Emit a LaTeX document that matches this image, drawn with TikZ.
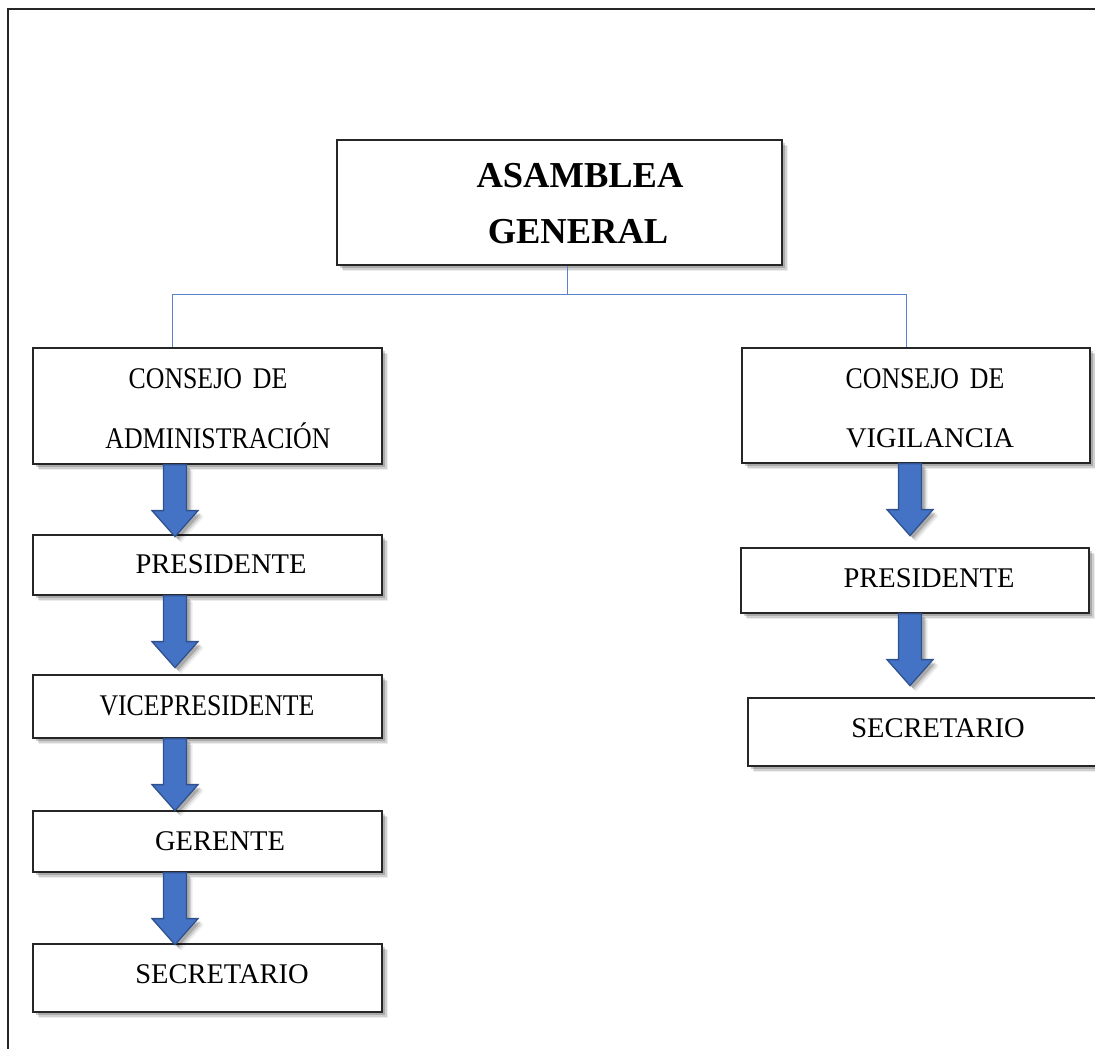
\documentclass[tikz,border=0pt]{standalone}
\usepackage{fontspec}
\setmainfont{Liberation Serif}
\newfontfamily\condfont[FakeStretch=0.86]{Liberation Serif}
\usetikzlibrary{shadows,calc}
\definecolor{arrowblue}{HTML}{4472C4}
\definecolor{arrowedge}{HTML}{2F528F}
\definecolor{connblue}{HTML}{5B83CC}
\tikzset{
  softshadow/.style={
    drop shadow={shadow xshift=6pt, shadow yshift=-6pt, fill=black, opacity=0.07},
    drop shadow={shadow xshift=4.5pt, shadow yshift=-4.5pt, fill=black, opacity=0.12},
    drop shadow={shadow xshift=3pt, shadow yshift=-3pt, fill=black, opacity=0.18}},
  box/.style={draw=black!85, line width=1.2pt, fill=white, inner sep=0pt, softshadow},
  lbl/.style={inner sep=0pt, anchor=base, font=\fontsize{28.5}{30}\selectfont},
  clbl/.style={inner sep=0pt, anchor=base, font=\condfont\fontsize{30}{32}\selectfont},
  blbl/.style={inner sep=0pt, anchor=base, font=\fontsize{36.5}{38}\selectfont\bfseries},
  barrow/.style={fill=arrowblue, draw=arrowedge, line width=1.3pt, line join=miter, softshadow},
  conn/.style={draw=connblue, line width=1pt},
  frameline/.style={draw=black!85, line width=1.2pt}
}
% #1 source node, #2 x centre of the arrow
\newcommand\blkarrow[2]{%
  \path let \p1=(#1.south) in
    [barrow] (#2pt-11.5pt,\y1) -- (#2pt+11.5pt,\y1) -- (#2pt+11.5pt,\y1-46pt)
    -- (#2pt+23pt,\y1-46pt) -- (#2pt,\y1-72pt) -- (#2pt-23pt,\y1-46pt)
    -- (#2pt-11.5pt,\y1-46pt) -- cycle;}
\begin{document}
\begin{tikzpicture}[x=1pt,y=-1pt]
\useasboundingbox (0,0) rectangle (1095,1049);
\draw[frameline] (8,1049) -- (8,9) -- (1095,9);

% boxes
\node[box, minimum width=445pt, minimum height=125pt] (asam) at (559.5,202.5) {};
\node[box, minimum width=349pt, minimum height=116pt] (ca) at (207.5,406) {};
\node[box, minimum width=348pt, minimum height=115pt] (cv) at (916,405.5) {};
\node[box, minimum width=349pt, minimum height=60pt] (lp) at (207.5,565) {};
\node[box, minimum width=349pt, minimum height=63pt] (lv) at (207.5,706.5) {};
\node[box, minimum width=349pt, minimum height=61pt] (lg) at (207.5,841.5) {};
\node[box, minimum width=349pt, minimum height=68pt] (ls) at (207.5,978) {};
\node[box, minimum width=348pt, minimum height=65pt] (rp) at (915,580.5) {};
\node[box, minimum width=348pt, minimum height=68pt] (rs) at (922,732) {};

% connectors
\coordinate (asamc) at ($(asam.south)+(7.5,0)$);
\coordinate (bar) at (0,294);
\coordinate (catop) at ($(ca.north west)+(140,0)$);
\coordinate (cvtop) at ($(cv.north west)+(165,0)$);
\draw[conn] (asamc) -- (asamc|-bar) -| (catop);
\draw[conn] (asamc|-bar) -| (cvtop);

% labels
\node[blbl] (tasam1) at (580,187) {ASAMBLEA};
\node[blbl] (tasam2) at (578,243) {GENERAL};
\node[clbl] (tca1) at (208,388) {CONSEJO\hspace{11pt}DE};
\node[clbl] (tca2) at (218,448) {ADMINISTRACIÓN};
\node[clbl] (tcv1) at (925,388) {CONSEJO\hspace{11pt}DE};
\node[lbl] (tcv2) at (930,447) {VIGILANCIA};
\node[lbl] (tlp) at (221,573) {PRESIDENTE};
\node[clbl] (tlv) at (207,715) {VICEPRESIDENTE};
\node[lbl] (tlg) at (220,850) {GERENTE};
\node[lbl] (tls) at (222,983) {SECRETARIO};
\node[lbl] (trp) at (929,587) {PRESIDENTE};
\node[lbl] (trs) at (938,737) {SECRETARIO};

% block arrows
\blkarrow{ca}{175}
\blkarrow{lp}{175}
\blkarrow{lv}{175}
\blkarrow{lg}{175}
\blkarrow{cv}{910}
\blkarrow{rp}{910}
\end{tikzpicture}
\end{document}
